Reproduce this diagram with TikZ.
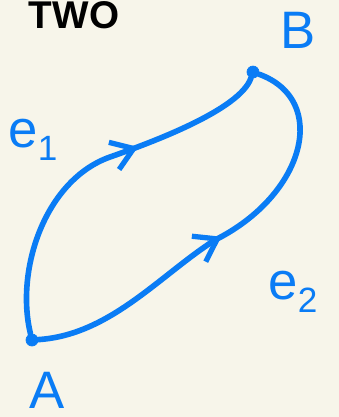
\documentclass[tikz,border=0pt]{standalone}
\usepackage{fontspec}
\setsansfont{Liberation Sans}
\usetikzlibrary{arrows.meta, decorations.markings}
\definecolor{inkblue}{HTML}{0A7CF5}
\definecolor{paper}{HTML}{F7F5EA}
\tikzset{
  curve/.style={inkblue, line width=3.2pt, line cap=round, line join=round},
  dot/.style={circle, fill=inkblue, draw=inkblue, inner sep=0pt, minimum size=0.24cm},
  lbl/.style={inkblue, font=\fontsize{30}{30}\sffamily},
  midarrow/.style={postaction={decorate, decoration={markings,
    mark=at position #1 with {\arrow[inkblue, line width=3pt]{Straight Barb[length=0.42cm, width=0.58cm]}}}}}
}

\begin{document}
\begin{tikzpicture}[x=0.02cm, y=-0.02cm]
  \fill[paper] (0,0) rectangle (339,417);
  \useasboundingbox (0,0) rectangle (339,417);
  \node[font=\fontsize{22}{22}\sffamily\bfseries, anchor=base] (title) at (74,28) {TWO};

  \node[dot] (A) at (32,340) {};
  \node[dot] (B) at (253,72) {};

  \node[lbl] (labA) at (47,390) {A};
  \node[lbl] (labB) at (298,30) {B};
  \node[lbl] (labE1) at (33,140) {e\raisebox{-0.25em}{\fontsize{20}{20}\selectfont 1}};
  \node[lbl] (labE2) at (293,292) {e\raisebox{-0.25em}{\fontsize{20}{20}\selectfont 2}};

  \coordinate (m1) at (110,157);
  \coordinate (m2) at (215,240);

  \draw[curve, midarrow=0.64] (A) .. controls (15,270) and (45,180) .. (m1)
    .. controls (150,143) and (240,110) .. (B);
  \draw[curve, midarrow=0.5] (A) .. controls (110,335) and (160,275) .. (m2)
    .. controls (305,195) and (330,100) .. (B);
\end{tikzpicture}
\end{document}
